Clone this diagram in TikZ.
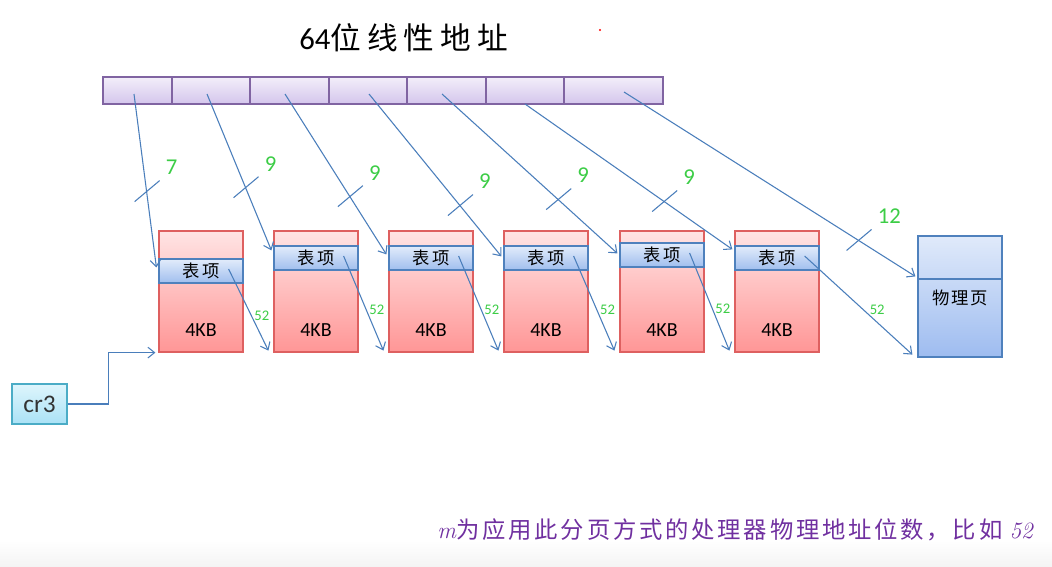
\documentclass[tikz,border=0pt]{standalone}
\usepackage[no-math]{fontspec}
\newfontfamily\carl{Carlito}
\newfontfamily\cjk{Noto Sans CJK SC}
\newfontfamily\cjkt[LetterSpace=20]{Noto Sans CJK SC}
\newfontfamily\cjkb[LetterSpace=12]{Noto Sans CJK SC}
\usetikzlibrary{arrows.meta,calc,fit}
\definecolor{lnC}{RGB}{74,126,187}
\definecolor{barB}{RGB}{128,100,162}
\definecolor{barT}{RGB}{243,238,250}
\definecolor{barBot}{RGB}{212,198,236}
\definecolor{tblB}{RGB}{222,96,96}
\definecolor{tblT}{RGB}{255,228,228}
\definecolor{tblBot}{RGB}{255,150,150}
\definecolor{entB}{RGB}{79,129,189}
\definecolor{entT}{RGB}{226,236,251}
\definecolor{entBot}{RGB}{160,190,238}
\definecolor{pgT}{RGB}{224,234,250}
\definecolor{pgBot}{RGB}{158,188,240}
\definecolor{crB}{RGB}{75,172,198}
\definecolor{crT}{RGB}{222,245,252}
\definecolor{crBot}{RGB}{170,226,246}
\definecolor{numG}{RGB}{60,205,70}
\definecolor{purp}{RGB}{112,48,160}
\definecolor{bgG}{RGB}{244,244,244}
\tikzset{
  barcell/.style={draw=barB, top color=barT, bottom color=barBot, inner sep=0pt, line width=0.9pt},
  tblbox/.style={draw=tblB, top color=tblT, bottom color=tblBot, inner sep=0pt, line width=0.9pt},
  entbox/.style={draw=entB, top color=entT, bottom color=entBot, inner sep=0pt, line width=0.9pt},
  enttext/.style={font=\cjk\fontsize{13}{13}\selectfont, inner sep=0pt},
  pgbox/.style={draw=entB, top color=pgT, bottom color=pgBot, inner sep=0pt, line width=0.9pt},
  crbox/.style={draw=crB, top color=crT, bottom color=crBot, inner sep=0pt, line width=0.9pt},
  crtext/.style={font=\carl\fontsize{19}{19}\selectfont, text=black!80, inner sep=0pt},
  kbtext/.style={font=\carl\fontsize{15}{15}\selectfont, inner sep=0pt},
  lnk/.style={draw=lnC, line width=0.8pt, -{Straight Barb[length=5pt,width=8pt]}},
  slashmark/.style={draw=lnC, line width=0.8pt},
  numlbl/.style={text=numG, font=\carl\fontsize{17}{17}\selectfont, inner sep=0pt, anchor=west},
  smalllbl/.style={text=numG, font=\carl\fontsize{11}{11}\selectfont, inner sep=1pt, anchor=west}
}
\begin{document}
\begin{tikzpicture}[x=0.75pt,y=-0.75pt]
\useasboundingbox (0,0) rectangle (1052,567);
\fill[white] (0,0) rectangle (1052,567);
\shade[top color=white, bottom color=bgG] (0,540) rectangle (1052,567);

% title
\node[anchor=west, inner sep=0pt] (title) at (299,38)
  {\fontsize{23}{26}\selectfont\carl 64\cjkt 位线性地址};
\fill[red] (600,30) circle (1.2);

% address bar
\foreach \i/\a/\b in {1/103/172, 2/172/250, 3/250/329, 4/329/407, 5/407/486, 6/486/564, 7/564/663}
  \node[barcell, fit={(\a,77)(\b,104)}] (b\i) {};

% tables
\foreach \i/\x/\ey in {1/159/259, 2/274/246, 3/389/246, 4/504/246, 5/620/243, 6/735/246} {
  \node[tblbox, fit={(\x,231)(\x+84,352)}] (t\i) {};
  \node[entbox, fit={(\x,\ey)(\x+84,\ey+24)}] (e\i) {};
  \node[enttext] (et\i) at (e\i.center) {表\hspace{2pt}项};
  \node[kbtext] (k\i) at (\x+42,330) {4KB};
}

% physical page
\node[pgbox, fit={(918,236)(1002,357)}] (p) {};
\coordinate (pd) at (960,279);
\draw[draw=entB, line width=0.9pt] (p.west |- pd) -- (p.east |- pd);
\node[font=\cjk\fontsize{13}{13}\selectfont, inner sep=0pt] (ptxt) at (960,298) {物\hspace{1pt}理\hspace{1pt}页};

% cr3
\node[crbox, fit={(12,384)(67,424)}] (cr) {};
\node[crtext] (crt) at (cr.center) {cr3};
\draw[lnk] (cr.east) -- ++(41,0) |- ($(t1.south west)+(-3,0)$);

% arrows from address bar
\coordinate (a1) at (134,94);
\coordinate (a2) at (207,94);
\coordinate (a3) at (285,94);
\coordinate (a4) at (369,94);
\coordinate (a5) at (442,94);
\coordinate (a6) at (525,104);
\coordinate (a7) at (624,92);
\coordinate (q1) at ($(e1.north west)+(-2,9)$);
\coordinate (q2) at ($(e2.north west)+(-2,5)$);
\coordinate (q3) at ($(e3.north west)+(-2,9)$);
\coordinate (q4) at ($(e4.north west)+(-2,11)$);
\coordinate (q5) at ($(e5.north west)+(-2,11)$);
\coordinate (q6) at ($(e6.north west)+(-2,4)$);
\coordinate (q7) at ($(p.north west)+(-2,41)$);

\foreach \i/\t/\lab in {1/0.563/7, 2/0.599/9, 3/0.64/9, 4/0.687/9, 5/0.6625/9, 6/0.671/9, 7/0.805/12} {
  \draw[lnk] (a\i) -- coordinate[pos=\t] (c\i) (q\i);
  \draw[slashmark] ($(c\i)+(-12,10)$) -- ($(c\i)+(13,-11)$);
  \node[numlbl] (n\i) at ($(c\i)+(19,-24)$) {\lab};
}

% 52-bit arrows
\foreach \i/\j in {1/2, 2/3, 3/4, 4/5, 5/6} {
  \coordinate (s\i) at ($(e\i.east)+(-15,-2)$);
  \coordinate (r\i) at ($(t\j.south west)+(-5,-2)$);
  \draw[lnk] (s\i) -- node[smalllbl, pos=0.57, xshift=1pt] (m\i) {52} (r\i);
}
\coordinate (s6) at ($(e6.east)+(-15,-2)$);
\coordinate (r6) at ($(p.south west)+(-5,-3)$);
\draw[lnk] (s6) -- node[smalllbl, pos=0.55, xshift=3pt] (m6) {52} (r6);

% bottom note
\node[anchor=west, inner sep=0pt, text=purp] (note) at (437,530)
  {\fontsize{17.5}{20}\selectfont\textit{m}\cjkb 为应用此分页方式的处理器物理地址位数，比如\rmfamily\ \textit{52}};
\end{tikzpicture}
\end{document}
